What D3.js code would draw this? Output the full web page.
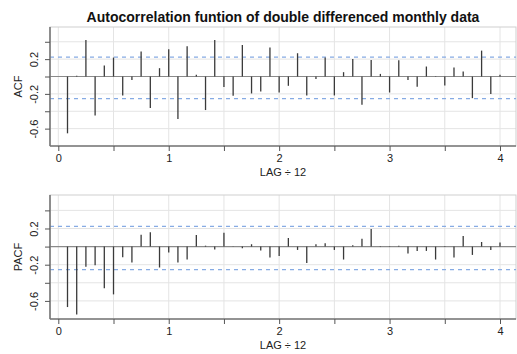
<!DOCTYPE html>
<html>
<head>
<meta charset="utf-8">
<script src="https://cdn.jsdelivr.net/npm/d3@7"></script>
<style>
  html, body { margin: 0; padding: 0; background: #fff; }
  svg { display: block; font-family: "Liberation Sans", Arial, sans-serif; }
</style>
</head>
<body>
<div id="chart"></div>
<script>
// lags are 1..48 months, shown as LAG / 12
const lags = d3.range(1, 49).map(k => k / 12);

const acfValues = [
  -0.654, 0.01, 0.42, -0.45, 0.126, 0.218, -0.218, -0.04, 0.287, -0.363, 0.096, 0.314,
  -0.49, 0.348, 0.02, -0.386, 0.42, -0.122, -0.222, 0.363, -0.195, -0.172, 0.333, -0.184,
  -0.107, 0.268, -0.218, -0.03, 0.218, -0.218, 0.05, 0.203, -0.325, 0.19, 0.03, -0.184,
  0.187, -0.04, -0.119, 0.115, 0.005, -0.103, 0.103, 0.057, -0.249, 0.298, -0.2, 0.02
];

const pacfValues = [
  -0.668, -0.749, -0.224, -0.206, -0.459, -0.528, -0.117, -0.176, 0.132, 0.158, -0.231, -0.066,
  -0.176, -0.143, 0.128, 0.01, -0.033, 0.154, 0.005, -0.018, 0.026, -0.044, -0.121, -0.103,
  0.095, -0.037, -0.18, 0.026, 0.037, -0.037, -0.143, 0.015, 0.088, 0.194, -0.005, 0.004,
  0.01, -0.077, -0.048, -0.048, -0.143, -0.005, -0.121, 0.117, -0.092, 0.051, -0.037, 0.044
];

const confBounds = [0.224, -0.255];
const xTicks = [0, 0.5, 1, 1.5, 2, 2.5, 3, 3.5, 4];
const xTickLabels = ["0", "", "1", "", "2", "", "3", "", "4"];
const yTicks = [0.4, 0.2, 0, -0.2, -0.4, -0.6];
const yTickLabels = ["", "0.2", "", "-0.2", "", "-0.6"];

const W = 517, H = 354;
const left = 50, right = 516;

const svg = d3.select("#chart").append("svg")
  .attr("width", W).attr("height", H);

svg.append("text")
  .attr("x", 283).attr("y", 21.5)
  .attr("text-anchor", "middle")
  .attr("font-size", 14).attr("font-weight", "bold")
  .attr("fill", "#111")
  .text("Autocorrelation funtion of double differenced monthly data");

const x = d3.scaleLinear().domain([0, 4]).range([58.3, 500]);

function panel(values, top, bottom, ylab) {
  const y = d3.scaleLinear().domain([-0.8, 0.57]).range([bottom, top]);
  const g = svg.append("g");

  // grid
  g.selectAll(".vg").data(xTicks).join("line")
    .attr("x1", d => x(d)).attr("x2", d => x(d))
    .attr("y1", top).attr("y2", bottom)
    .attr("stroke", "#e4e4e4").attr("stroke-width", 1);
  g.selectAll(".hg").data(yTicks.filter(d => d !== 0)).join("line")
    .attr("x1", left).attr("x2", right)
    .attr("y1", d => y(d)).attr("y2", d => y(d))
    .attr("stroke", "#e4e4e4").attr("stroke-width", 1);

  // frame
  g.append("rect")
    .attr("x", left).attr("y", top)
    .attr("width", right - left).attr("height", bottom - top)
    .attr("fill", "none").attr("stroke", "#cfcfcf").attr("stroke-width", 1);

  // zero line
  g.append("line")
    .attr("x1", left).attr("x2", right)
    .attr("y1", y(0)).attr("y2", y(0))
    .attr("stroke", "#8a8a8a").attr("stroke-width", 1.2);

  // confidence bounds
  g.selectAll(".ci").data(confBounds).join("line")
    .attr("x1", left).attr("x2", right)
    .attr("y1", d => y(d)).attr("y2", d => y(d))
    .attr("stroke", "#86abe4").attr("stroke-width", 1.3)
    .attr("stroke-dasharray", "4,4");

  // spikes
  g.selectAll(".bar").data(values).join("line")
    .attr("x1", (d, i) => x(lags[i])).attr("x2", (d, i) => x(lags[i]))
    .attr("y1", y(0)).attr("y2", d => y(d))
    .attr("stroke", "#3a3a3a").attr("stroke-width", 1.3);

  // axes
  const xAxis = g.append("g").attr("transform", `translate(0,${bottom})`)
    .call(d3.axisBottom(x).tickValues(xTicks)
      .tickFormat((d, i) => xTickLabels[i]).tickSize(5).tickPadding(3));
  xAxis.select(".domain").attr("d", `M${left},0H${right}`)
    .attr("stroke", "#777").attr("stroke-width", 1.6);
  xAxis.selectAll(".tick line").attr("stroke", "#555");
  xAxis.selectAll("text").attr("font-size", 11).attr("fill", "#222")
    .attr("font-family", "Liberation Sans, Arial, sans-serif");

  const yAxis = g.append("g").attr("transform", `translate(${left},0)`)
    .call(d3.axisLeft(y).tickValues(yTicks)
      .tickFormat((d, i) => yTickLabels[i]).tickSize(5).tickPadding(3));
  yAxis.select(".domain").attr("d", `M0,${top}V${bottom}`)
    .attr("stroke", "#777").attr("stroke-width", 1.6);
  yAxis.selectAll(".tick line").attr("stroke", "#555");
  yAxis.selectAll("text")
    .attr("font-size", 11).attr("fill", "#222")
    .attr("font-family", "Liberation Sans, Arial, sans-serif")
    .attr("text-anchor", "middle")
    .attr("x", null).attr("dy", null)
    .attr("transform", "translate(-15,0) rotate(-90)")
    .attr("dominant-baseline", "middle");

  // labels
  svg.append("text")
    .attr("x", (left + right) / 2).attr("y", bottom + 30)
    .attr("text-anchor", "middle").attr("font-size", 11).attr("fill", "#222")
    .text("LAG \u00f7 12");
  svg.append("text")
    .attr("transform", `translate(22,${(top + bottom) / 2}) rotate(-90)`)
    .attr("text-anchor", "middle").attr("font-size", 11).attr("fill", "#222")
    .text(ylab);
}

panel(acfValues, 27, 146, "ACF");
panel(pacfValues, 195, 319, "PACF");
</script>
</body>
</html>
